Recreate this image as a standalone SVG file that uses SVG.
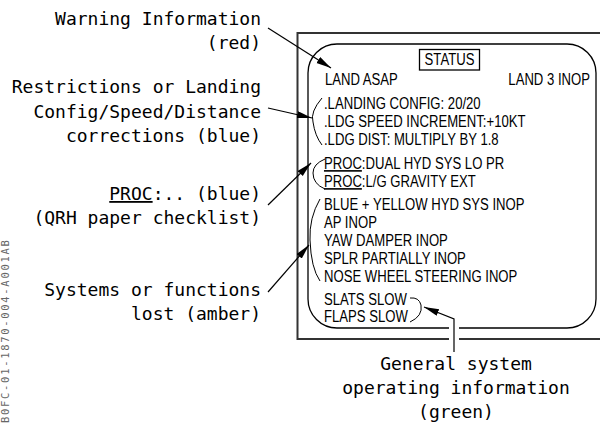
<svg xmlns="http://www.w3.org/2000/svg" width="600" height="425" viewBox="0 0 600 425">
<defs>
<marker id="ah" markerUnits="userSpaceOnUse" markerWidth="16" markerHeight="8" refX="15" refY="3.5" orient="auto">
<path d="M0,0 L15,3.5 L0,7 z" fill="#000"/>
</marker>
<style>
.lbl{font-family:"DejaVu Sans Mono","Liberation Mono",monospace;font-size:18px;fill:#000;text-anchor:end}
.lblc{font-family:"DejaVu Sans Mono","Liberation Mono",monospace;font-size:18px;fill:#000;text-anchor:middle}
.st{font-family:"Liberation Sans",Arial,sans-serif;font-size:16px;fill:#000}
.ln{fill:none;stroke:#000;stroke-width:1.2}
.br{fill:none;stroke:#000;stroke-width:1}
</style>
</defs>
<rect width="600" height="425" fill="#fff"/>

<g id="panel">
<path d="M600,33 H297.5 V339 H600" fill="none" stroke="#333" stroke-width="2"/>
<rect x="308" y="44" width="288" height="284" rx="29" ry="29" fill="none" stroke="#000" stroke-width="1.3"/>
<rect x="419.5" y="49.5" width="60" height="20.5" fill="none" stroke="#000" stroke-width="1.3"/>
<g transform="scale(0.82 1)">
<text class="st" x="548.2" y="65" text-anchor="middle">STATUS</text>
</g>
</g>

<g id="warning-text">
<g transform="scale(0.82 1)">
<text class="st" x="396.3" y="85.5">LAND ASAP</text>
<text class="st" x="719.5" y="85.5" text-anchor="end">LAND 3 INOP</text>
</g>
</g>

<g id="landing-text">
<path class="br" d="M322,98 Q310,112 313,122 Q315,136 322,145"/>
<g transform="scale(0.82 1)">
<text class="st" x="395.1" y="109">.LANDING CONFIG: 20/20</text>
<text class="st" x="395.1" y="127">.LDG SPEED INCREMENT:+10KT</text>
<text class="st" x="395.1" y="145">.LDG DIST: MULTIPLY BY 1.8</text>
</g>
</g>

<g id="proc-text">
<path class="br" d="M325,159 Q313,164 313,173 Q313,184 325,189"/>
<g transform="scale(0.82 1)">
<text class="st" x="395.1" y="169"><tspan text-decoration="underline">PROC</tspan>:DUAL HYD SYS LO PR</text>
<text class="st" x="395.1" y="187"><tspan text-decoration="underline">PROC</tspan>:L/G GRAVITY EXT</text>
</g>
</g>

<g id="systems-text">
<path class="br" d="M320,199 Q309,218 310,240 Q311,268 320,281"/>
<g transform="scale(0.82 1)">
<text class="st" x="395.1" y="210.5">BLUE + YELLOW HYD SYS INOP</text>
<text class="st" x="395.1" y="228.5">AP INOP</text>
<text class="st" x="395.1" y="246.5">YAW DAMPER INOP</text>
<text class="st" x="395.1" y="264">SPLR PARTIALLY INOP</text>
<text class="st" x="395.1" y="282.5">NOSE WHEEL STEERING INOP</text>
</g>
</g>

<g id="general-text">
<path class="br" d="M410,298 Q419,297 421,305 Q423,316 410,322"/>
<g transform="scale(0.82 1)">
<text class="st" x="395.1" y="305.5">SLATS SLOW</text>
<text class="st" x="395.1" y="322.5">FLAPS SLOW</text>
</g>
</g>

<g id="labels">
<g id="lbl-warning">
<text class="lbl" x="261" y="25">Warning Information</text>
<text class="lbl" x="261" y="49">(red)</text>
</g>
<g id="lbl-restrictions">
<text class="lbl" x="261" y="93">Restrictions or Landing</text>
<text class="lbl" x="261" y="117.5">Config/Speed/Distance</text>
<text class="lbl" x="261" y="141.5">corrections (blue)</text>
</g>
<g id="lbl-proc">
<text class="lbl" x="261" y="200"><tspan text-decoration="underline">PROC</tspan>:.. (blue)</text>
<text class="lbl" x="261" y="224">(QRH paper checklist)</text>
</g>
<g id="lbl-systems">
<text class="lbl" x="261" y="296">Systems or functions</text>
<text class="lbl" x="261" y="320">lost (amber)</text>
</g>
<g id="lbl-general">
<text class="lblc" x="456" y="370">General system</text>
<text class="lblc" x="456" y="394">operating information</text>
<text class="lblc" x="456" y="418">(green)</text>
</g>
</g>

<g id="connectors">
<line x1="268" y1="28" x2="331" y2="68" class="ln" marker-end="url(#ah)"/>
<line x1="268" y1="108" x2="312" y2="118" class="ln" marker-end="url(#ah)"/>
<line x1="268" y1="205" x2="311" y2="163" class="ln" marker-end="url(#ah)"/>
<line x1="268" y1="292" x2="309" y2="245" class="ln" marker-end="url(#ah)"/>
<line x1="454" y1="323" x2="454" y2="345" stroke="#fff" stroke-width="10"/>
<path d="M454,352 V319 L424,307" class="ln" marker-end="url(#ah)"/>
</g>

<text transform="translate(9,423) rotate(-90)" font-family="DejaVu Sans Mono, monospace" font-size="10.5" letter-spacing="1.7" fill="#666">B0FC-01-1870-004-A001AB</text>
</svg>
